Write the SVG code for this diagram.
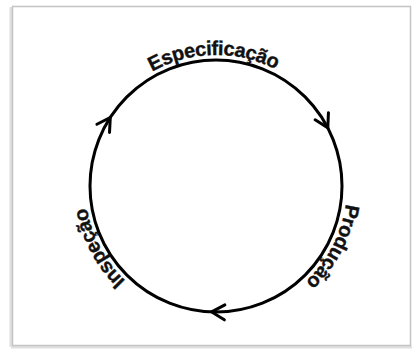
<svg xmlns="http://www.w3.org/2000/svg" xmlns:xlink="http://www.w3.org/1999/xlink" width="414" height="349" viewBox="0 0 414 349">
  <style>
    .ring { fill: none; stroke: #000; stroke-width: 3; }
    .chev { fill: none; stroke: #000; stroke-width: 3; stroke-linecap: round; stroke-linejoin: miter; }
    .lbl { font-family: "Liberation Sans", Arial, sans-serif; font-weight: bold; font-size: 20px; letter-spacing: -0.4px; fill: #111; stroke: #111; stroke-width: 0.4; }
    .frame { fill: #fff; stroke: #c4c4c4; stroke-width: 1.5; }
  </style>
  <defs>
    <path id="textRing" d="M 85 186 A 131 131 0 1 1 347 186 A 131 131 0 1 1 85 186"/>
    <path id="chevron" d="M -13 -7.5 L 0 0 L -13 7.5"/>
  </defs>
  <rect width="414" height="349" fill="#fff"/>
  <g id="frame">
    <line x1="11" y1="7" x2="11" y2="347" stroke="#e0e0e0" stroke-width="3"/>
    <line x1="11" y1="347" x2="412" y2="347" stroke="#e0e0e0" stroke-width="3"/>
    <rect class="frame" x="12.5" y="6.5" width="398" height="339"/>
  </g>
  <g id="connectors">
    <circle class="ring" cx="216" cy="186" r="126"/>
    <use href="#chevron" xlink:href="#chevron" class="chev" transform="translate(327.8,127.8) rotate(62.5)"/>
    <use href="#chevron" xlink:href="#chevron" class="chev" transform="translate(211.6,311.9) rotate(182)"/>
    <use href="#chevron" xlink:href="#chevron" class="chev" transform="translate(110.3,117.4) rotate(303)"/>
  </g>
  <g id="node-especificacao">
    <text class="lbl" text-anchor="middle"><textPath href="#textRing" xlink:href="#textRing" startOffset="24.7%">Especificação</textPath></text>
  </g>
  <g id="node-producao">
    <text class="lbl" text-anchor="middle"><textPath href="#textRing" xlink:href="#textRing" startOffset="57.6%">Produção</textPath></text>
  </g>
  <g id="node-inspecao">
    <text class="lbl" text-anchor="middle"><textPath href="#textRing" xlink:href="#textRing" startOffset="92.2%">Inspeção</textPath></text>
  </g>
</svg>
